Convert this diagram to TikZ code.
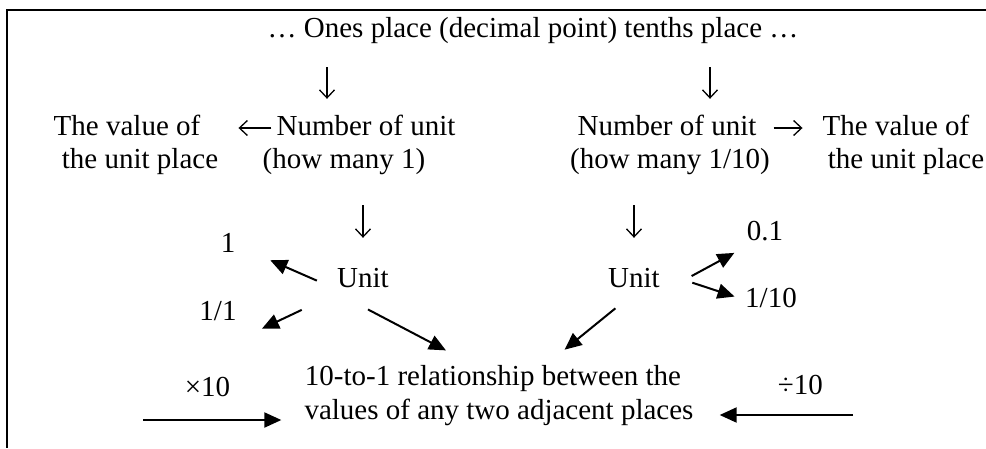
\documentclass[tikz,border=0pt]{standalone}
\usepackage{fontspec}
\setmainfont{Liberation Serif}
\usetikzlibrary{arrows.meta}

\begin{document}
\begin{tikzpicture}[x=1pt, y=-1pt,
    every node/.style={inner sep=0pt, text height=20pt, text depth=6pt, font=\fontsize{29}{33}\selectfont},
    tri/.style={-{Triangle[length=17pt,width=15pt]}, line width=2pt},
    barb/.style={-{Straight Barb[length=8pt,width=15pt]}, line width=1.3pt}]
    \useasboundingbox (0,0) rectangle (986,448);
    \draw[line width=2pt] (986,10) -- (7,10) -- (7,448);

    % place value row
    \node (top) at (533,30) {… Ones place (decimal point) tenths place …};
    \coordinate (dL) at (327,67);
    \coordinate (dR) at (710,67);

    % number of units and their values
    \node (valL1) at (127,128) {The value of};
    \node (valL2) at (140,161) {the unit place};
    \node (numL1) at (366,128) {Number of unit};
    \node (numL2) at (344,161) {(how many 1)};
    \node (numR1) at (667,128) {Number of unit};
    \node (numR2) at (670,161) {(how many 1/10)};
    \node (valR1) at (896,128) {The value of};
    \node (valR2) at (906,161) {the unit place};

    % units
    \node (unitL) at (363,280) {Unit};
    \node (unitR) at (634,280) {Unit};
    \node (one) at (228,245) {1};
    \node[outer sep=10pt] (oneone) at (218,313) {1/1};
    \node (pt) at (765,233) {0.1};
    \node (tenth) at (771,300) {1/10};

    % relationship
    \node (rel1) at (493,378) {10-to-1 relationship between the};
    \node (rel2) at (499,412) {values of any two adjacent places};
    \coordinate (xin) at (143,420);
    \coordinate (din) at (853,415);

    \draw[barb, shorten >=16pt] (dL) -- (dL |- numL1.north);
    \draw[barb, shorten >=16pt] (dR) -- (dR |- numR1.north);
    \draw[barb, shorten <=5pt, shorten >=38pt] (numL1) -- (valL1);
    \draw[barb, shorten <=17pt, shorten >=20pt] (numR1) -- (valR1);
    \draw[barb, shorten <=31pt, shorten >=29pt] (numL2.south -| unitL) -- (unitL);
    \draw[barb, shorten <=31pt, shorten >=29pt] (numR2.south -| unitR) -- (unitR);

    \draw[tri, shorten <=22pt, shorten >=38pt] (unitL.200) -- (one.east);
    \draw[tri, shorten <=39pt, shorten >=17pt] (unitL.south west) -- (oneone.south east);
    \draw[tri, shorten <=35pt, shorten >=31pt] (unitL.south west) -- (rel1.146);
    \draw[tri, shorten <=24pt, shorten >=24pt] (unitR.south) -- (rel1.14);
    \draw[tri, shorten <=36pt, shorten >=14pt] (unitR.south east) -- (pt.south west);
    \draw[tri, shorten <=34pt, shorten >=11pt] (unitR.17) -- (tenth.west);

    \draw[tri, shorten >=23pt] (xin) -- node[pos=0.4, above=17pt] (times) {×10} (xin -| rel2.west);
    \draw[tri, shorten >=26pt] (din) -- node[pos=0.33, above=14pt] (divide) {÷10} (din -| rel2.east);
\end{tikzpicture}
\end{document}
